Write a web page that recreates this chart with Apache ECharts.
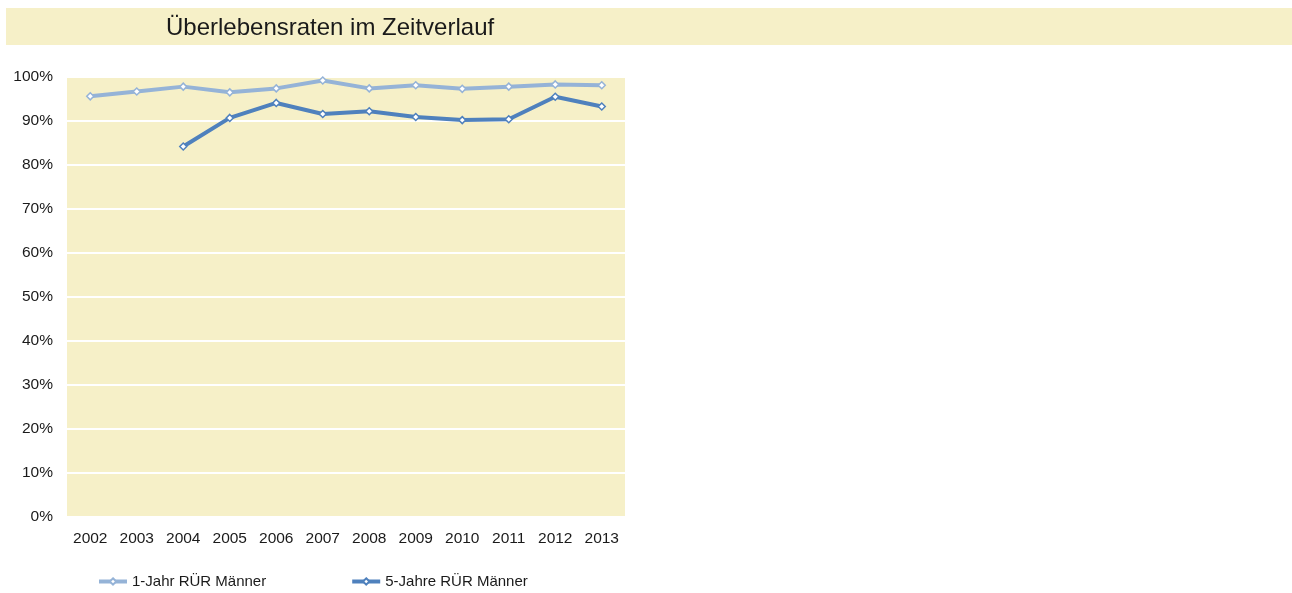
<!DOCTYPE html>
<html>
<head>
<meta charset="utf-8">
<script src="https://cdn.jsdelivr.net/npm/echarts@6/dist/echarts.min.js"></script>
<style>
  html, body { margin: 0; padding: 0; background: #ffffff; }
  #chart { width: 1292px; height: 593px; }
</style>
</head>
<body>
<div id="chart"></div>
<script>
// Survival rates (relative survival, men) per diagnosis year, in percent
const years = ['2002', '2003', '2004', '2005', '2006', '2007', '2008', '2009', '2010', '2011', '2012', '2013'];
const oneYear = [95.5, 96.6, 97.7, 96.4, 97.3, 99.1, 97.3, 98.0, 97.2, 97.7, 98.2, 98.0];
const fiveYear = [null, null, 84.1, 90.6, 94.0, 91.5, 92.1, 90.8, 90.1, 90.3, 95.4, 93.2];
const seriesNames = ['1-Jahr RÜR Männer', '5-Jahre RÜR Männer'];
const chartTitle = 'Überlebensraten im Zeitverlauf';

const FONT = '"Liberation Sans", Arial, sans-serif';
const chart = echarts.init(document.getElementById('chart'));

function lineSeries(name, data, color) {
  return {
    name: name,
    type: 'line',
    data: data,
    symbol: 'diamond',
    symbolSize: 7,
    showAllSymbol: true,
    connectNulls: false,
    lineStyle: { color: color, width: 4 },
    itemStyle: { color: '#ffffff', borderColor: color, borderWidth: 1.5 },
    emphasis: { disabled: true },
    z: 3
  };
}

chart.setOption({
  animation: false,
  backgroundColor: '#ffffff',
  graphic: [
    {
      type: 'rect',
      shape: { x: 6, y: 8, width: 1286, height: 37 },
      style: { fill: '#f6f0c8' },
      silent: true,
      z: 0
    }
  ],
  title: {
    text: chartTitle,
    left: 161,
    top: 11,
    textStyle: { fontFamily: FONT, fontSize: 24, fontWeight: 'normal', color: '#1a1a1a' }
  },
  grid: {
    left: 67,
    top: 76.5,
    width: 558,
    height: 440.5,
    show: true,
    backgroundColor: '#f6f0c8',
    borderWidth: 0,
    containLabel: false
  },
  legend: {
    left: 92,
    top: 569,
    itemGap: 84,
    itemWidth: 28,
    itemHeight: 8,
    lineStyle: { width: 4 },
    textStyle: { fontFamily: FONT, fontSize: 15, color: '#1a1a1a' },
    data: seriesNames
  },
  xAxis: {
    type: 'category',
    data: years,
    boundaryGap: true,
    axisLine: { show: false },
    axisTick: { show: false },
    axisLabel: { fontFamily: FONT, fontSize: 15.5, color: '#1a1a1a', margin: 14 }
  },
  yAxis: {
    type: 'value',
    min: 0,
    max: 100,
    interval: 10,
    axisLine: { show: false },
    axisTick: { show: false },
    axisLabel: { formatter: '{value}%', fontFamily: FONT, fontSize: 15.5, color: '#1a1a1a', margin: 14 },
    splitLine: { lineStyle: { color: '#ffffff', width: 2 } }
  },
  series: [
    lineSeries(seriesNames[0], oneYear, '#95b3d7'),
    lineSeries(seriesNames[1], fiveYear, '#4f81bd')
  ]
});
</script>
</body>
</html>
